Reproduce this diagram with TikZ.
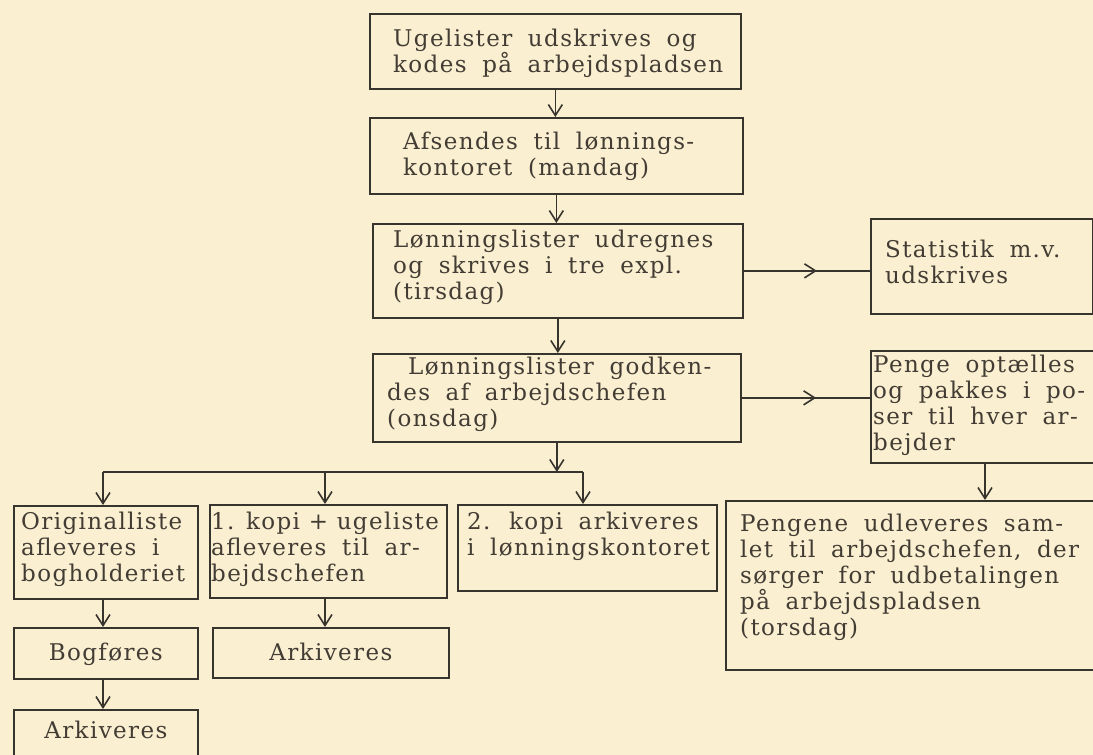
\documentclass[tikz,border=0pt]{standalone}
\usepackage{fontspec}
\setmainfont{DejaVu Serif}[LetterSpace=6,WordSpace=1.8]
\newfontfamily\narrowspaced{DejaVu Serif}[LetterSpace=6,WordSpace=1.0]
\usetikzlibrary{arrows.meta,decorations.markings}
\definecolor{paper}{RGB}{250,239,208}
\definecolor{ink}{RGB}{55,51,45}
\definecolor{typeink}{RGB}{66,60,52}

\begin{document}
\begin{tikzpicture}[x=1pt,y=-1pt,
  boxframe/.style={draw=ink, line width=1.7pt, anchor=north west, inner sep=0pt},
  boxtext/.style={anchor=north west, inner sep=0pt, align=left, text=typeink,
    font=\fontsize{23}{26}\selectfont},
  flowarrow/.style={draw=ink, line width=1.6pt, -{Straight Barb[length=11pt,width=14pt]}},
  flowline/.style={draw=ink, line width=1.6pt},
  midarrow/.style={draw=ink, line width=1.6pt, postaction={decorate},
    decoration={markings, mark=at position 0.58 with {\arrow{Straight Barb[length=11pt,width=14pt]}}}}
]
\useasboundingbox (0,0) rectangle (1093,755);
\clip (0,0) rectangle (1093,755);
\fill[paper] (0,0) rectangle (1093,755);

% main column
\node[boxframe, minimum width=371pt, minimum height=75pt] (b1) at (369,13) {};
\node[boxtext] (b1t) at ([shift={(24,16)}]b1.north west) {Ugelister udskrives og\\kodes på arbejdspladsen};

\node[boxframe, minimum width=373pt, minimum height=76pt] (b2) at (369,117) {};
\node[boxtext] (b2t) at ([shift={(34,15)}]b2.north west) {Afsendes til lønnings-\\kontoret (mandag)};

\node[boxframe, minimum width=370pt, minimum height=94pt] (b3) at (372,223) {};
\node[boxtext] (b3t) at ([shift={(21,7)}]b3.north west) {Lønningslister udregnes\\og skrives i tre expl.\\(tirsdag)};

\node[boxframe, minimum width=368pt, minimum height=88pt] (b4) at (372,353) {};
\node[boxtext] (b4t) at ([shift={(15,4)}]b4.north west) {\hspace*{21pt}Lønningslister godken-\\des af arbejdschefen\\(onsdag)};

% right column
\node[boxframe, minimum width=222pt, minimum height=95pt] (stat) at (870,218) {};
\node[boxtext] (statt) at ([shift={(15,22)}]stat.north west) {Statistik m.v.\\udskrives};

\node[boxframe, minimum width=226pt, minimum height=112pt] (penge) at (870,350) {};
\node[boxtext] (pengert) at ([shift={(3,5)}]penge.north west) {Penge optælles\\og pakkes i po-\\ser til hver ar-\\bejder};

\node[boxframe, minimum width=371pt, minimum height=169pt] (udl) at (725,500) {};
\node[boxtext] (udlt) at ([shift={(15,14)}]udl.north west) {Pengene udleveres sam-\\let til arbejdschefen, der\\sørger for udbetalingen\\på arbejdspladsen\\(torsdag)};

% lower rows
\node[boxframe, minimum width=184pt, minimum height=93pt] (orig) at (13,505) {};
\node[boxtext] (origt) at ([shift={(8,7)}]orig.north west) {Originalliste\\afleveres i\\bogholderiet};

\node[boxframe, minimum width=237pt, minimum height=93pt] (kopi1) at (209,504) {};
\node[boxtext] (kopi1t) at ([shift={(2,8)}]kopi1.north west) {{\narrowspaced 1. kopi + ugeliste}\\afleveres til ar-\\bejdschefen};

\node[boxframe, minimum width=259pt, minimum height=86pt] (kopi2) at (457,504) {};
\node[boxtext] (kopi2t) at ([shift={(10,8)}]kopi2.north west) {2. kopi arkiveres\\i lønningskontoret};

\node[boxframe, minimum width=184pt, minimum height=51pt] (bog) at (13,627) {};
\node[boxtext, anchor=base] (bogt) at ([shift={(0,7)}]bog.center) {Bogføres};

\node[boxframe, minimum width=236pt, minimum height=50pt] (ark2) at (212,627) {};
\node[boxtext, anchor=base] (ark2t) at ([shift={(0,8)}]ark2.center) {Arkiveres};

\node[boxframe, minimum width=184pt, minimum height=70pt] (ark1) at (13,709) {};
\node[boxtext, anchor=base] (ark1t) at (ark1.north |- 0,738) {Arkiveres};

% connectors
\draw[flowarrow] (b1.south) -- (b1.south |- b2.north);
\draw[flowarrow] (b2.south) -- (b2.south |- b3.north);
\draw[flowarrow] (b3.south) -- (b3.south |- b4.north);

\coordinate (brL) at (103,472);
\coordinate (brM) at (325,472);
\coordinate (brR) at (583,472);
\draw[flowarrow] (b4.south) -- (b4.south |- brL);
\draw[flowline] (brL) -- (brR);
\draw[flowarrow] (brL) -- (brL |- orig.north);
\draw[flowarrow] (brM) -- (brM |- kopi1.north);
\draw[flowarrow] (brR) -- (brR |- kopi2.north);

\draw[flowarrow] (orig.south -| brL) -- (brL |- bog.north);
\draw[flowarrow] (bog.south -| brL) -- (brL |- ark1.north);
\draw[flowarrow] (kopi1.south -| brM) -- (brM |- ark2.north);

\draw[midarrow] (b3.east) -- (b3.east -| stat.west);
\draw[midarrow] (b4.east) -- (b4.east -| penge.west);

\coordinate (pd) at (985,462);
\draw[flowarrow] (pd |- penge.south) -- (pd |- udl.north);
\end{tikzpicture}
\end{document}
